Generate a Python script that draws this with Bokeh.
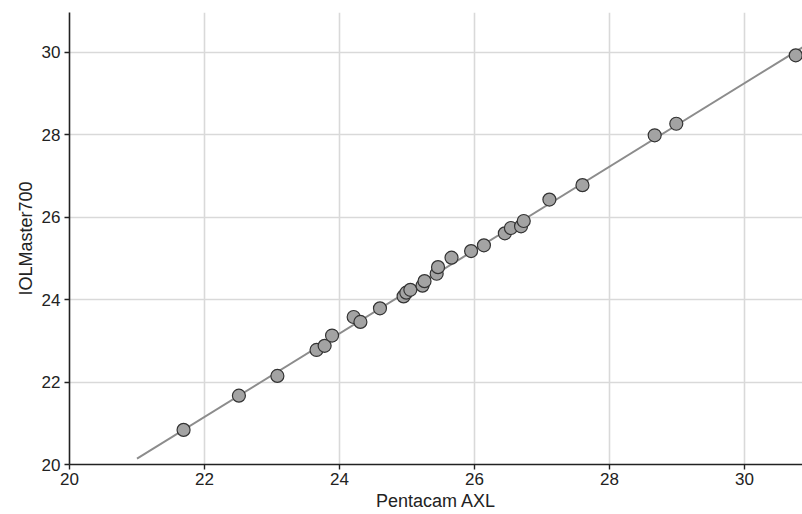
import numpy as np
from bokeh.plotting import figure
from bokeh.models import FixedTicker, Range1d
from bokeh.embed import file_html
from bokeh.resources import INLINE

pentacam = [21.69, 22.51, 23.08, 23.66, 23.78, 23.89, 24.21, 24.31, 24.60, 24.95,
            24.99, 25.05, 25.23, 25.26, 25.44, 25.46, 25.66, 25.95, 26.14, 26.45,
            26.54, 26.69, 26.73, 27.11, 27.60, 28.67, 28.99, 30.76]
iolmaster = [20.84, 21.67, 22.15, 22.78, 22.88, 23.13, 23.58, 23.46, 23.79, 24.08,
             24.17, 24.24, 24.34, 24.45, 24.63, 24.79, 25.02, 25.18, 25.32, 25.61,
             25.74, 25.78, 25.91, 26.43, 26.78, 27.99, 28.27, 29.93]
ticks = [20, 22, 24, 26, 28, 30]
line_x = [21.0, 30.9]

slope, intercept = np.polyfit(pentacam, iolmaster, 1)
line_y = [slope * x + intercept for x in line_x]

p = figure(width=802, height=514, output_backend="svg", toolbar_location=None,
           x_range=Range1d(20, 30.86), y_range=Range1d(20, 30.97),
           min_border_left=69, min_border_right=0, min_border_top=12, min_border_bottom=50)
p.outline_line_color = None
p.background_fill_color = "white"
p.border_fill_color = "white"

p.line(line_x, line_y, line_color="#8c8c8c", line_width=2)
p.scatter(pentacam, iolmaster, size=13, fill_color="#a3a3a3", line_color="#333333", line_width=1.2)

for ax in (p.xaxis[0], p.yaxis[0]):
    ax.ticker = FixedTicker(ticks=ticks)
    ax.minor_tick_line_color = None
    ax.major_tick_out = 5
    ax.major_tick_in = 0
    ax.axis_line_color = "#222222"
    ax.axis_line_width = 1.6
    ax.major_tick_line_color = "#222222"
    ax.major_tick_line_width = 1.4
    ax.major_label_text_font = "Liberation Sans"
    ax.major_label_text_font_size = "17px"
    ax.major_label_text_color = "#222222"
    ax.axis_label_text_font = "Liberation Sans"
    ax.axis_label_text_font_size = "18px"
    ax.axis_label_text_font_style = "normal"
    ax.axis_label_text_color = "#222222"
    ax.axis_label_standoff = 3

p.xaxis[0].major_label_standoff = 3
p.yaxis[0].major_label_standoff = 4

p.xaxis.axis_label = "Pentacam AXL"
p.yaxis.axis_label = "IOLMaster700"

p.xgrid.ticker = FixedTicker(ticks=ticks)
p.ygrid.ticker = FixedTicker(ticks=ticks)
p.grid.grid_line_color = "#d9d9d9"
p.grid.grid_line_width = 1.6

open("out.html", "w").write(file_html(p, INLINE))
